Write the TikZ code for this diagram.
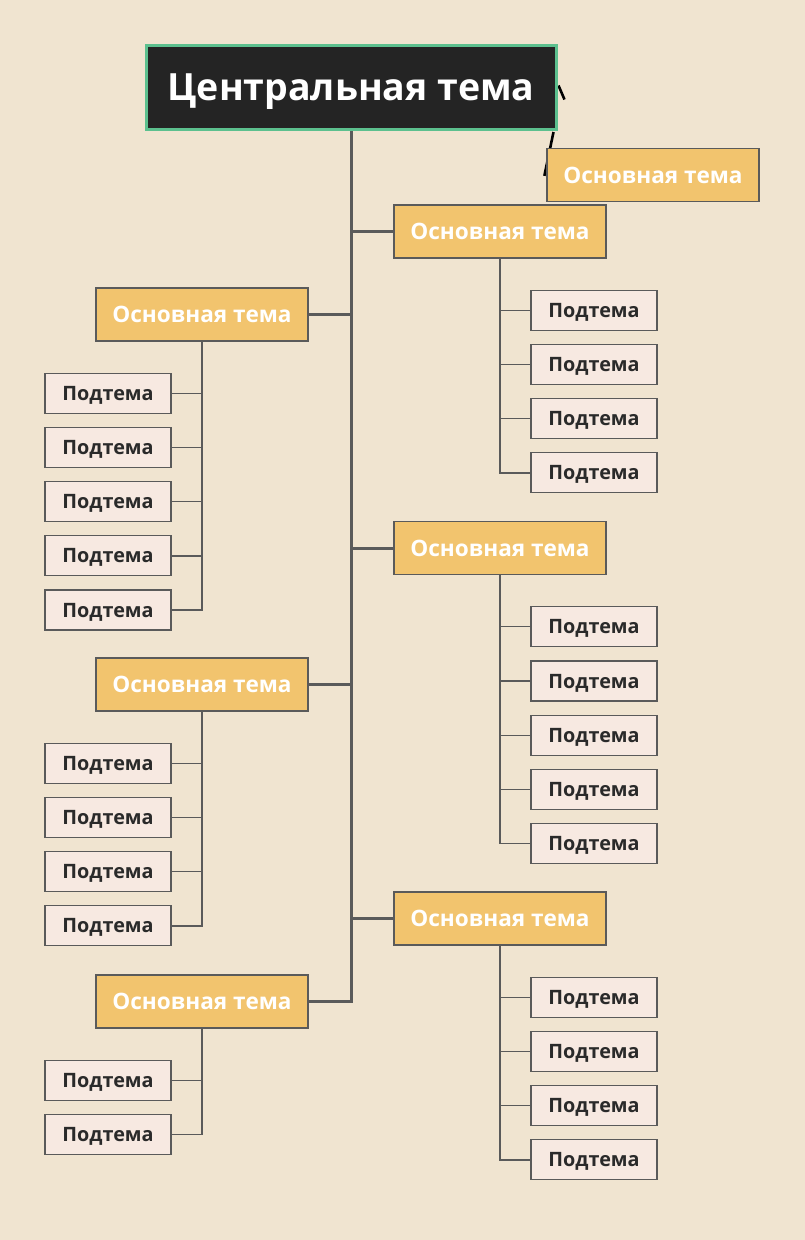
\documentclass[tikz,border=0pt]{standalone}
\usepackage{fontspec}
\setmainfont{Open Sans}
\usetikzlibrary{positioning}
\definecolor{paper}{HTML}{F0E4D0}
\definecolor{centrefill}{HTML}{242424}
\definecolor{centreedge}{HTML}{5CC08E}
\definecolor{topicfill}{HTML}{F2C46E}
\definecolor{subfill}{HTML}{F7E9E1}
\definecolor{edge}{HTML}{5A5A5A}
\definecolor{subtext}{HTML}{2A2A2A}
\pgfdeclarelayer{back}
\pgfdeclarelayer{paperlayer}
\pgfsetlayers{paperlayer,back,main}

\begin{document}
\begin{tikzpicture}[
  x=1pt, y=-1pt,
  node distance=13pt,
  centre/.style={draw=centreedge, line width=3pt, fill=centrefill, minimum width=410pt,
                 minimum height=84pt, inner sep=0pt, text=white,
                 text height=26.8pt, text depth=0pt,
                 font=\bfseries\fontsize{37.5}{42}\selectfont},
  topic/.style={draw=edge, line width=1.3pt, fill=topicfill, minimum width=212pt,
                minimum height=53pt, inner sep=0pt, text=white,
                text height=16.1pt, text depth=0pt,
                font=\bfseries\fontsize{22.6}{26}\selectfont},
  subtopic/.style={draw=edge, line width=1.2pt, fill=subfill, minimum width=126pt,
                   minimum height=40pt, inner sep=0pt, text=subtext,
                   text height=14.1pt, text depth=0pt,
                   font=\bfseries\fontsize{19.8}{23}\selectfont},
  trunk/.style={draw=edge, line width=3pt},
  twig/.style={draw=edge, line width=1.3pt},
  floatlink/.style={draw=black, line width=2.6pt}
]
\begin{pgfonlayer}{paperlayer}
\fill[paper] (0,0) rectangle (805,1240);
\end{pgfonlayer}
\useasboundingbox (0,0) rectangle (805,1240);

% main nodes
\node[centre] (centre) at (351,87.5) {Центральная тема};
\node[topic] (float) at (653,175) {Основная тема};
\node[topic] (R1) at (500,231.5) {Основная тема};
\node[topic] (L1) at (202,314.5) {Основная тема};
\node[topic] (R2) at (500,548) {Основная тема};
\node[topic] (L2) at (202,684.5) {Основная тема};
\node[topic] (R3) at (500,918.5) {Основная тема};
\node[topic] (L3) at (202,1001.5) {Основная тема};

% right subtopics
\node[subtopic, below=31pt of R1, xshift=94pt] (R1a) {Подтема};
\node[subtopic, below=of R1a] (R1b) {Подтема};
\node[subtopic, below=of R1b] (R1c) {Подтема};
\node[subtopic, below=of R1c] (R1d) {Подтема};

\node[subtopic, below=31pt of R2, xshift=94pt] (R2a) {Подтема};
\node[subtopic, below=of R2a] (R2b) {Подтема};
\node[subtopic, below=of R2b] (R2c) {Подтема};
\node[subtopic, below=of R2c] (R2d) {Подтема};
\node[subtopic, below=of R2d] (R2e) {Подтема};

\node[subtopic, below=31pt of R3, xshift=94pt] (R3a) {Подтема};
\node[subtopic, below=of R3a] (R3b) {Подтема};
\node[subtopic, below=of R3b] (R3c) {Подтема};
\node[subtopic, below=of R3c] (R3d) {Подтема};

% left subtopics
\node[subtopic, below=31pt of L1, xshift=-94pt] (L1a) {Подтема};
\node[subtopic, below=of L1a] (L1b) {Подтема};
\node[subtopic, below=of L1b] (L1c) {Подтема};
\node[subtopic, below=of L1c] (L1d) {Подтема};
\node[subtopic, below=of L1d] (L1e) {Подтема};

\node[subtopic, below=31pt of L2, xshift=-94pt] (L2a) {Подтема};
\node[subtopic, below=of L2a] (L2b) {Подтема};
\node[subtopic, below=of L2b] (L2c) {Подтема};
\node[subtopic, below=of L2c] (L2d) {Подтема};

\node[subtopic, below=31pt of L3, xshift=-94pt] (L3a) {Подтема};
\node[subtopic, below=of L3a] (L3b) {Подтема};

% trunk and topic links
\begin{pgfonlayer}{back}
\draw[floatlink] (centre.east) ++(1,-2) -- ++(6,14);
\draw[floatlink] (centre.south east) ++(-4,1) -- ([xshift=-2pt,yshift=-28pt]float.north west);
\draw[trunk] (centre.south) |- (L3.east);
\draw[trunk] (R1.west) -- (R1.west -| centre.south);
\draw[trunk] (L1.east) -- (L1.east -| centre.south);
\draw[trunk] (R2.west) -- (R2.west -| centre.south);
\draw[trunk] (L2.east) -- (L2.east -| centre.south);
\draw[trunk] (R3.west) -- (R3.west -| centre.south);

% subtopic links
\draw[twig] (R1.south) |- (R1d.west);
\draw[twig] (R1a.west) -- (R1a.west -| R1.south);
\draw[twig] (R1b.west) -- (R1b.west -| R1.south);
\draw[twig] (R1c.west) -- (R1c.west -| R1.south);
\draw[twig] (R2.south) |- (R2e.west);
\draw[twig] (R2a.west) -- (R2a.west -| R2.south);
\draw[twig] (R2b.west) -- (R2b.west -| R2.south);
\draw[twig] (R2c.west) -- (R2c.west -| R2.south);
\draw[twig] (R2d.west) -- (R2d.west -| R2.south);
\draw[twig] (R3.south) |- (R3d.west);
\draw[twig] (R3a.west) -- (R3a.west -| R3.south);
\draw[twig] (R3b.west) -- (R3b.west -| R3.south);
\draw[twig] (R3c.west) -- (R3c.west -| R3.south);
\draw[twig] (L1.south) |- (L1e.east);
\draw[twig] (L1a.east) -- (L1a.east -| L1.south);
\draw[twig] (L1b.east) -- (L1b.east -| L1.south);
\draw[twig] (L1c.east) -- (L1c.east -| L1.south);
\draw[twig] (L1d.east) -- (L1d.east -| L1.south);
\draw[twig] (L2.south) |- (L2d.east);
\draw[twig] (L2a.east) -- (L2a.east -| L2.south);
\draw[twig] (L2b.east) -- (L2b.east -| L2.south);
\draw[twig] (L2c.east) -- (L2c.east -| L2.south);
\draw[twig] (L3.south) |- (L3b.east);
\draw[twig] (L3a.east) -- (L3a.east -| L3.south);
\end{pgfonlayer}
\end{tikzpicture}
\end{document}
